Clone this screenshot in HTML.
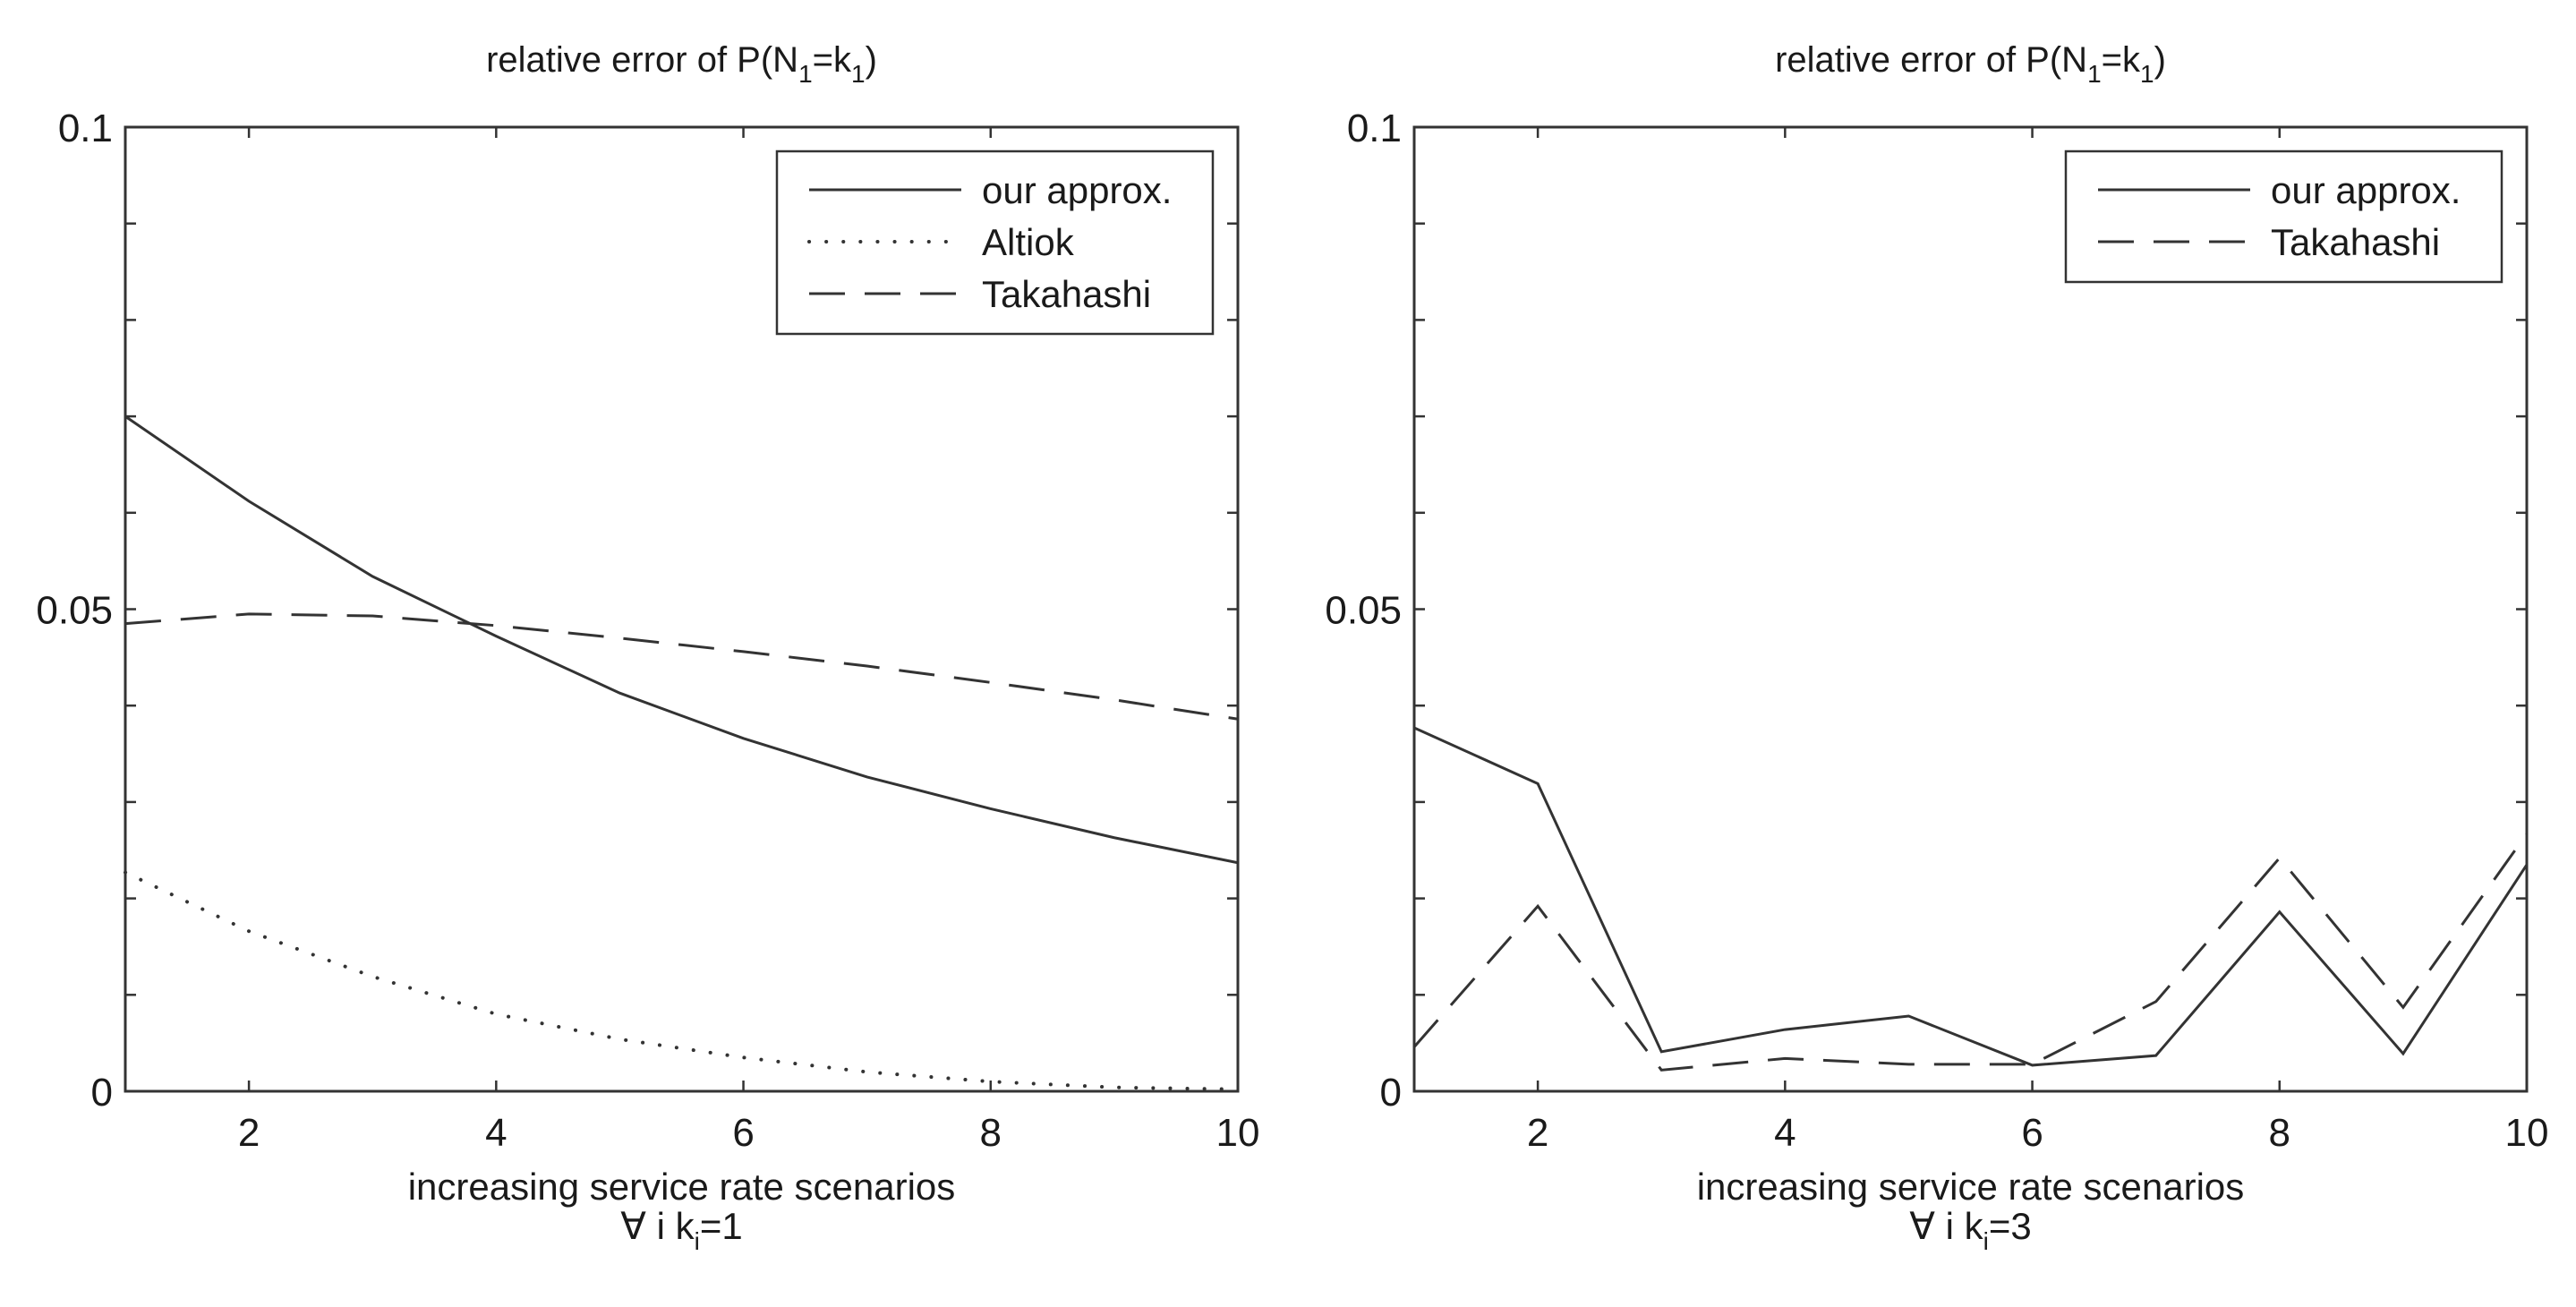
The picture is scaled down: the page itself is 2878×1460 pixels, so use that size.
<!DOCTYPE html>
<html><head><meta charset="utf-8"><style>
body{margin:0;background:#fff}
svg text{font-family:"Liberation Sans",Arial,sans-serif;fill:#1a1a1a}
</style></head><body>
<svg id="fig" width="2878" height="1455" viewBox="0 0 2878 1455" xmlns="http://www.w3.org/2000/svg"></svg>
<script>
const xs=[1,2,3,4,5,6,7,8,9,10];
const leftOurs=[0.0700,0.0612,0.0534,0.0472,0.0413,0.0366,0.0326,0.0293,0.0263,0.0237];
const leftAltiok=[0.0227,0.0166,0.0119,0.0080,0.0054,0.0035,0.0020,0.0010,0.0004,0.0002];
const leftTak=[0.0485,0.0495,0.0493,0.0483,0.0470,0.0456,0.0441,0.0424,0.0406,0.0386];
const rightOurs=[0.0377,0.0319,0.0041,0.0064,0.0078,0.0027,0.0037,0.0186,0.0039,0.0235];
const rightTak=[0.0046,0.0192,0.0022,0.0034,0.0028,0.0028,0.0093,0.0242,0.0087,0.0267];
const xTicks=[2,4,6,8,10];
const yLabels=[0,0.05,0.1];
const yLabelText=["0","0.05","0.1"];
const yMinor=[0,0.01,0.02,0.03,0.04,0.05,0.06,0.07,0.08,0.09,0.1];
const NS="http://www.w3.org/2000/svg";
const svg=document.getElementById('fig');
function mk(tag,attrs,parent){const e=document.createElementNS(NS,tag);for(const k in attrs)e.setAttribute(k,attrs[k]);(parent||svg).appendChild(e);return e;}
function panel(ox,name,series,legend,sub){
  const L=ox,R=ox+1243,T=142,B=1219;
  const g=mk('g',{});
  
  
  const sx=v=>L+(v-1)/9*(R-L);
  const sy=v=>B-v/0.1*(B-T);
  const title=mk('text',{x:(L+R)/2,y:80,'font-size':40,'text-anchor':'middle'},g);
  
  
  title.innerHTML='relative error of P(N<tspan font-size="28" dy="12">1</tspan><tspan dy="-12">=k</tspan><tspan font-size="28" dy="12">1</tspan><tspan dy="-12">)</tspan>';
  const frame=mk('rect',{x:L,y:T,width:R-L,height:B-T,fill:'none',stroke:'#333','stroke-width':3},g);
  
  
  yMinor.forEach(v=>{
    const y=sy(v);
    const t1=mk('line',{x1:L,x2:L+12,y1:y,y2:y,stroke:'#333','stroke-width':2.5},g);
    
    
    const t2=mk('line',{x1:R-12,x2:R,y1:y,y2:y,stroke:'#333','stroke-width':2.5},g);
    
    
  });
  yLabels.forEach((v,i)=>{
    const t=mk('text',{x:L-14,y:sy(v)+16,'font-size':44,'text-anchor':'end'},g);
    
    
    t.textContent=yLabelText[i];
  });
  xTicks.forEach(v=>{
    const x=sx(v);
    const t1=mk('line',{x1:x,x2:x,y1:B,y2:B-12,stroke:'#333','stroke-width':2.5},g);
    
    
    const t2=mk('line',{x1:x,x2:x,y1:T,y2:T+12,stroke:'#333','stroke-width':2.5},g);
    
    
    const t=mk('text',{x:x,y:1280,'font-size':44,'text-anchor':'middle'},g);
    
    
    t.textContent=v;
  });
  const xl=mk('text',{x:(L+R)/2,y:1340,'font-size':42,'text-anchor':'middle'},g);
  
  
  xl.textContent='increasing service rate scenarios';
  const xl2=mk('text',{x:(L+R)/2,y:1384,'font-size':42,'text-anchor':'middle'},g);
  
  
  xl2.innerHTML='∀ i k<tspan font-size="28" dy="12">i</tspan><tspan dy="-12">='+sub+'</tspan>';
  series.forEach(s=>{
    const p=mk('polyline',{points:xs.map((x,i)=>sx(x)+','+sy(s.data[i])).join(' '),fill:'none',stroke:'#333','stroke-width':s.w,'stroke-dasharray':s.dash,'stroke-linecap':s.cap},g);
    
    
  });
  const lh=legend.length*58+30;
  const lg=mk('g',{},g);
  
  
  mk('rect',{x:ox+728,y:169,width:487,height:lh,fill:'#fff',stroke:'#333','stroke-width':2.5},lg);
  legend.forEach((s,i)=>{
    const y=212+i*58;
    const ln=mk('line',{x1:ox+764,x2:ox+934,y1:y,y2:y,stroke:'#333','stroke-width':s.w,'stroke-dasharray':s.dash,'stroke-linecap':s.cap},lg);
    
    
    const t=mk('text',{x:ox+957,y:y+15,'font-size':42},lg);
    
    
    t.textContent=s.label;
  });
}
const sOurs={name:'our-approx-line',label:'our approx.',dash:'none',cap:'butt',w:3};
const sAlt={name:'altiok-line',label:'Altiok',dash:'0.1 19',cap:'round',w:4};
const sTak={name:'takahashi-line',label:'Takahashi',dash:'40 22',cap:'butt',w:3};
panel(140,'left-chart',[Object.assign({data:leftOurs},sOurs),Object.assign({data:leftAltiok},sAlt),Object.assign({data:leftTak},sTak)],[sOurs,sAlt,sTak],'1');
panel(1580,'right-chart',[Object.assign({data:rightOurs},sOurs),Object.assign({data:rightTak},sTak)],[sOurs,sTak],'3');
</script>
</body></html>
